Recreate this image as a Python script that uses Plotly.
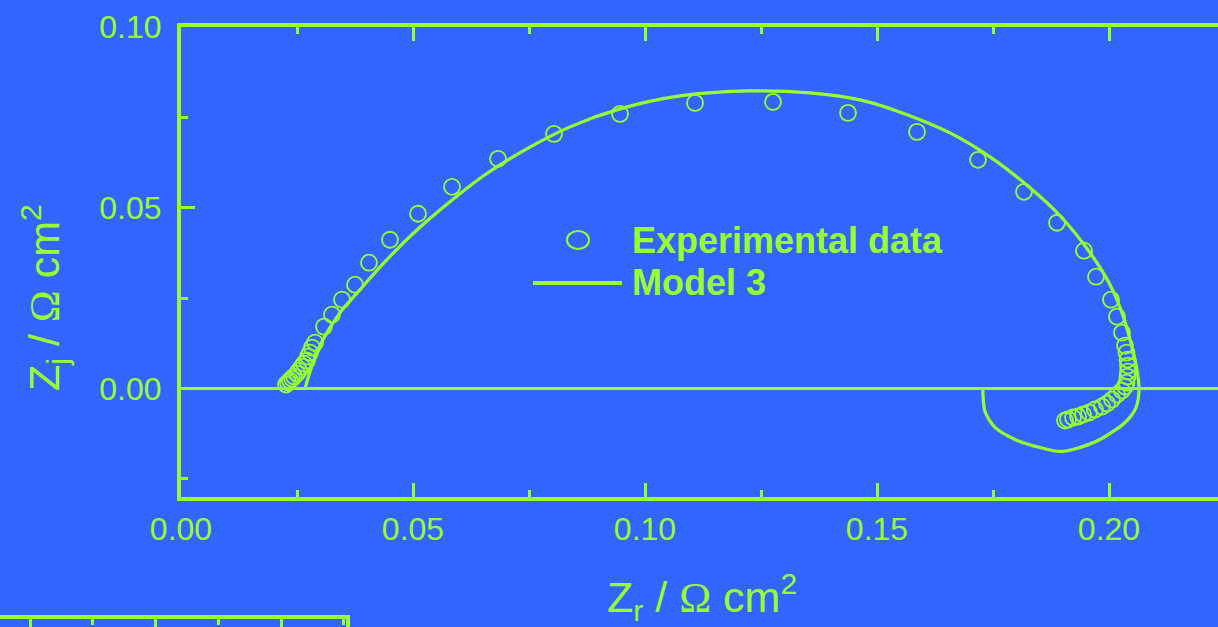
import plotly.graph_objects as go

# Nyquist data: real and imaginary impedance (ohm cm^2)
exp_zr = [0.02263, 0.02306, 0.02349, 0.02392, 0.02435, 0.02500, 0.02543, 0.02608,
          0.02651, 0.02716, 0.02737, 0.02780, 0.02823, 0.02888, 0.03082, 0.03254,
          0.03470, 0.03750, 0.04052, 0.04504, 0.05108, 0.05841, 0.06832, 0.08039,
          0.09461, 0.11078, 0.12759, 0.14375, 0.15862, 0.17177, 0.18168, 0.18879,
          0.19461, 0.19720, 0.20043, 0.20172, 0.20280, 0.20345, 0.20377, 0.20399,
          0.20409, 0.20409, 0.20399, 0.20377, 0.20345, 0.20280, 0.20172, 0.20065,
          0.19957, 0.19849, 0.19698, 0.19569, 0.19440, 0.19332, 0.19224, 0.19116,
          0.19052]
exp_zj = [0.00110, 0.00166, 0.00221, 0.00276, 0.00331, 0.00414, 0.00497, 0.00608,
          0.00691, 0.00773, 0.00884, 0.00994, 0.01133, 0.01271, 0.01713, 0.02044,
          0.02459, 0.02873, 0.03481, 0.04116, 0.04834, 0.05580, 0.06354, 0.07044,
          0.07597, 0.07901, 0.07928, 0.07624, 0.07099, 0.06326, 0.05442, 0.04586,
          0.03812, 0.03094, 0.02459, 0.01989, 0.01547, 0.01188, 0.00994, 0.00801,
          0.00635, 0.00470, 0.00331, 0.00166, 0.00055, -0.00055, -0.00166, -0.00304,
          -0.00414, -0.00497, -0.00580, -0.00663, -0.00718, -0.00773, -0.00801, -0.00856,
          -0.00884]

model_zr = [0.02672, 0.02845, 0.03060, 0.03427, 0.03858, 0.04397, 0.05043, 0.05797,
            0.06552, 0.07414, 0.08384, 0.09461, 0.10754, 0.12263, 0.13556, 0.14634,
            0.15603, 0.16573, 0.17435, 0.18297, 0.18944, 0.19591, 0.20022, 0.20280,
            0.20453, 0.20582, 0.20647, 0.20582, 0.20345, 0.19806, 0.19224, 0.18944,
            0.18513, 0.17974, 0.17543, 0.17328, 0.17284, 0.17284]
model_zj = [0.0, 0.00718, 0.01354, 0.02099, 0.02735, 0.03508, 0.04337, 0.05166,
            0.05912, 0.06602, 0.07238, 0.07735, 0.08094, 0.08232, 0.08177, 0.07983,
            0.07597, 0.07072, 0.06409, 0.05552, 0.04779, 0.03757, 0.02873, 0.02099,
            0.01354, 0.00663, -0.00028, -0.00525, -0.00939, -0.01409, -0.01685, -0.01740,
            -0.01630, -0.01409, -0.01077, -0.00635, -0.00166, 0.0]

legend_labels = ["Experimental data", "Model 3"]

BG = "#3366FF"
FG = "#99FF33"
W, H = 1218, 627
FONT = "Liberation Sans, Arial, sans-serif"


def px(x):
    return x / W


def py(y):
    return 1 - y / H


fig = go.Figure()

fig.add_trace(go.Scatter(
    x=exp_zr, y=exp_zj, mode="markers", name=legend_labels[0],
    marker=dict(symbol="circle-open", size=16, color=FG, line=dict(width=1.8, color=FG)),
    showlegend=False,
))
fig.add_trace(go.Scatter(
    x=model_zr, y=model_zj, mode="lines", name=legend_labels[1],
    line=dict(color=FG, width=3.2, shape="spline", smoothing=0.8),
    showlegend=False,
))
# empty trace so the lower panel's axes are laid out
fig.add_trace(go.Scatter(x=[], y=[], xaxis="x2", yaxis="y2", showlegend=False))

axis_common = dict(
    showline=True, linecolor=FG, linewidth=4,
    ticks="inside", tickcolor=FG, tickwidth=3, ticklen=14,
    showgrid=False, automargin=False,
    tickfont=dict(family=FONT, size=32, color=FG),
)

fig.update_layout(
    width=W, height=H, autosize=False,
    margin=dict(l=0, r=0, t=0, b=0, pad=0, autoexpand=False),
    paper_bgcolor=BG, plot_bgcolor=BG,
    showlegend=False,
    xaxis=dict(
        **axis_common,
        domain=[px(181), 1.0],
        range=[0, (W - 181) / 4640],
        tick0=0, dtick=0.05, tickformat=".2f",
        mirror="ticks", zeroline=False,
        minor=dict(ticks="inside", ticklen=7, tickwidth=3, tickcolor=FG, dtick=0.025, showgrid=False),
        ticklabelstandoff=1,
        anchor="y",
    ),
    yaxis=dict(
        **axis_common,
        domain=[py(497), py(27)],
        range=[-0.03, 0.10],
        tick0=0, dtick=0.05, tickformat=".2f",
        mirror=False,
        zeroline=True, zerolinecolor=FG, zerolinewidth=3,
        minor=dict(ticks="inside", ticklen=7, tickwidth=3, tickcolor=FG, dtick=0.025, showgrid=False),
        ticklabelstandoff=9,
        anchor="x",
    ),
    # frame of the panel below, mostly outside the view
    xaxis2=dict(
        domain=[0, px(346)], range=[-30 / 62.75, 316 / 62.75],
        side="top", anchor="y2", automargin=False,
        showline=True, linecolor=FG, linewidth=4, mirror=False,
        ticks="inside", tickcolor=FG, tickwidth=3, ticklen=14,
        tick0=0, dtick=2, showticklabels=False, showgrid=False, zeroline=False,
        minor=dict(ticks="inside", ticklen=6, tickwidth=3, tickcolor=FG, dtick=1, showgrid=False),
    ),
    yaxis2=dict(
        domain=[0, 8 / H], range=[0, 1], anchor="x2", side="right", automargin=False,
        showline=True, linecolor=FG, linewidth=4, mirror=False,
        ticks="", showticklabels=False, showgrid=False, zeroline=False,
    ),
)

# legend drawn by hand
fig.add_shape(type="circle", xref="paper", yref="paper",
              x0=px(567), x1=px(589), y0=py(249), y1=py(231),
              line=dict(color=FG, width=2))
fig.add_shape(type="line", xref="paper", yref="paper",
              x0=px(533), x1=px(622), y0=py(283), y1=py(283),
              line=dict(color=FG, width=4))
for label, ypix in zip(legend_labels, [240, 283]):
    fig.add_annotation(text=f"<b>{label}</b>", xref="paper", yref="paper",
                       x=px(630), y=py(ypix), xanchor="left", yanchor="middle",
                       showarrow=False, font=dict(family=FONT, size=36, color=FG))

# axis titles
omega = '<span style="font-family:Liberation Serif, Times New Roman, serif">Ω</span>'
fig.add_annotation(text=f"Z<sub>r</sub> / {omega} cm<sup>2</sup>",
                   xref="paper", yref="paper", x=px(702), y=py(597),
                   xanchor="center", yanchor="middle", showarrow=False,
                   font=dict(family=FONT, size=43, color=FG))
fig.add_annotation(text=f"Z<sub>j</sub> / {omega} cm<sup>2</sup>",
                   xref="paper", yref="paper", x=px(44), y=py(298),
                   xanchor="center", yanchor="middle", textangle=-90, showarrow=False,
                   font=dict(family=FONT, size=43, color=FG))

fig.write_html("out.html")
